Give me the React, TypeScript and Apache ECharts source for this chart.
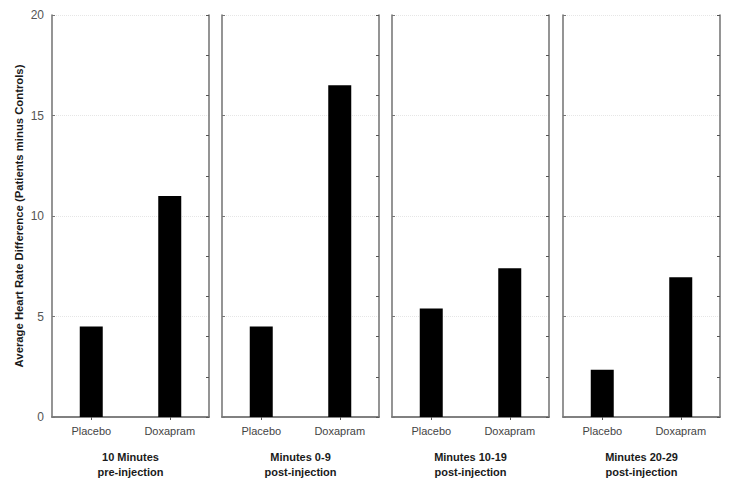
import React, { useEffect, useRef } from "react";
import * as echarts from "echarts";

const categories = ["Placebo", "Doxapram"];
const panelTitles = [
  "10 Minutes\npre-injection",
  "Minutes 0-9\npost-injection",
  "Minutes 10-19\npost-injection",
  "Minutes 20-29\npost-injection",
];
const placeboValues = [4.5, 4.5, 5.4, 2.35];
const doxapramValues = [11.0, 16.5, 7.4, 6.95];
const yAxisTitle = "Average Heart Rate Difference (Patients minus Controls)";

export default function App() {
  const ref = useRef<HTMLDivElement>(null);
  useEffect(() => {
    document.body.style.margin = "0";
    const chart = echarts.init(ref.current!, null, { renderer: "svg" });
    const lefts = [52, 222, 392, 563];
    const width = 157;
    const top = 15;
    const height = 403;
    const lineStyle = { color: "#7a7a7a", width: 1.6 };
    const grids: any[] = [];
    const xAxes: any[] = [];
    const yAxes: any[] = [];
    const series: any[] = [];
    panelTitles.forEach((title, i) => {
      grids.push({ left: lefts[i], width, top, height });
      xAxes.push({
        type: "category",
        gridIndex: i,
        data: categories,
        position: "bottom",
        axisLine: { show: true, lineStyle },
        axisTick: { show: false },
        axisLabel: { color: "#444", fontSize: 11, fontFamily: "Liberation Sans, Arial", margin: 8 },
        name: title,
        nameLocation: "middle",
        nameGap: 32,
        nameTextStyle: {
          color: "#1a1a1a",
          fontSize: 11,
          fontWeight: "bold",
          fontFamily: "Liberation Sans, Arial",
          lineHeight: 15,
        },
      });
      xAxes.push({
        type: "category",
        gridIndex: i,
        data: categories,
        position: "top",
        axisLine: { show: true, lineStyle },
        axisTick: { show: true, inside: true, alignWithLabel: true, length: 3, lineStyle: { color: "#555" } },
        axisLabel: { show: false },
      });
      yAxes.push({
        type: "value",
        gridIndex: i,
        min: 0,
        max: 20,
        interval: 5,
        position: "left",
        axisLine: { show: true, lineStyle },
        axisTick: { show: true, inside: true, length: 3, lineStyle: { color: "#777" } },
        axisLabel: {
          show: i === 0,
          color: "#555",
          fontSize: 12,
          fontFamily: "Liberation Sans, Arial",
          margin: 8,
        },
        splitLine: { show: true, lineStyle: { color: "#e6e6e6", type: "dotted", width: 1 } },
        name: i === 0 ? yAxisTitle : "",
        nameLocation: "middle",
        nameGap: 28,
        nameTextStyle: {
          color: "#1a1a1a",
          fontSize: 11.3,
          fontWeight: "bold",
          fontFamily: "Liberation Sans, Arial",
        },
      });
      yAxes.push({
        type: "value",
        gridIndex: i,
        min: 0,
        max: 20,
        interval: 2,
        position: "right",
        axisLine: { show: true, lineStyle },
        axisTick: { show: true, inside: true, length: 3, lineStyle: { color: "#555" } },
        axisLabel: { show: false },
        splitLine: { show: false },
      });
      series.push({
        type: "bar",
        xAxisIndex: 2 * i,
        yAxisIndex: 2 * i,
        data: [placeboValues[i], doxapramValues[i]],
        barWidth: 23,
        itemStyle: { color: "#000" },
      });
    });
    chart.setOption({
      animation: false,
      backgroundColor: "#fff",
      grid: grids,
      xAxis: xAxes,
      yAxis: yAxes,
      series,
    });
    return () => chart.dispose();
  }, []);
  return <div ref={ref} style={{ width: 729, height: 484 }} />;
}
